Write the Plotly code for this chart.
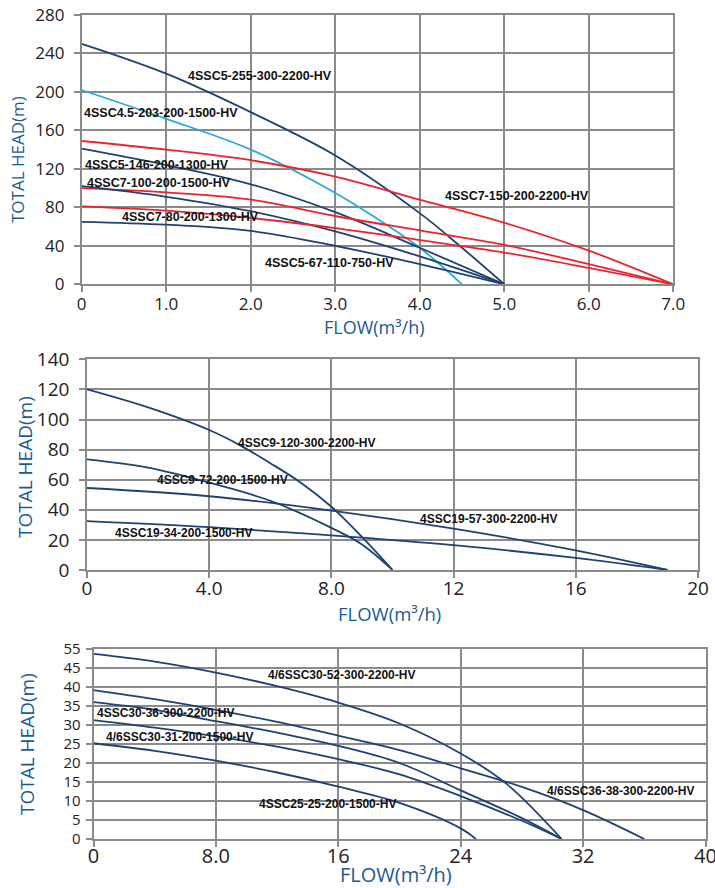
import plotly.graph_objects as go

W, H = 715, 888

# ---------------- data: chart 1 ----------------
c1_flow_5 = [0, 1, 2, 3, 4, 5]
c1_255_flow = [0, 1, 2, 3, 4, 4.5, 5]
c1_255_head = [250, 219, 179, 134, 74, 38, 0]
c1_203_flow = [0, 1, 2, 3, 3.5, 4, 4.5]
c1_203_head = [202, 172, 140, 95, 68, 38, 0]
c1_146_head = [141, 124, 104, 75, 38, 0]
c1_101_head = [102, 91, 76, 55, 29, 0]
c1_67_head = [65, 62, 55.5, 40, 21, 0]
c1_flow_7 = [0, 1, 2, 3, 4, 5, 6, 7]
c1_150_head = [149, 140, 129, 112, 88, 64, 35, 0]
c1_100_head = [100, 95.5, 88, 71, 56, 41, 21, 0]
c1_80_head = [81, 76.5, 69, 58.5, 46, 33, 17, 0]

c1_xticks = [0, 1, 2, 3, 4, 5, 6, 7]
c1_xtext = ["0", "1.0", "2.0", "3.0", "4.0", "5.0", "6.0", "7.0"]
c1_yticks = [0, 40, 80, 120, 160, 200, 240, 280]

# ---------------- data: chart 2 ----------------
c2_9_flow = [0, 2, 4, 5, 6, 7, 8, 9, 10]
c2_120_head = [120, 108, 93, 83, 71, 58, 42, 22, 0]
c2_72_flow = [0, 2, 4, 6, 8, 9, 10]
c2_72_head = [73.5, 68, 58, 46, 28, 17, 0]
c2_19_flow = [0, 4, 8, 12, 16, 19]
c2_57_head = [54.5, 49, 39.5, 27.5, 13, 0]
c2_34_head = [32.5, 28.5, 23, 16.5, 8, 0]

c2_xticks = [0, 4, 8, 12, 16, 20]
c2_xtext = ["0", "4.0", "8.0", "12", "16", "20"]
c2_yticks = [0, 20, 40, 60, 80, 100, 120, 140]

# ---------------- data: chart 3 ----------------
c3_52_flow = [0, 4, 8, 12, 16, 20, 24, 27, 30.6]
c3_52_head = [48.7, 46.7, 43.8, 40.2, 35.9, 30.4, 22.5, 14.5, 0]
c3_38_flow = [0, 4, 8, 12, 16, 20, 24, 28, 32, 36]
c3_38_head = [39.2, 36.8, 34, 30.8, 27.2, 23.4, 18.6, 13.7, 7.6, 0]
c3_30_flow = [0, 4, 8, 12, 16, 20, 24, 28, 30.6]
c3_36_head = [36, 34, 31, 28, 24.5, 20, 12.8, 5.5, 0]
c3_31_head = [31.3, 29.3, 27, 24.3, 21, 17, 11.3, 4.8, 0]
c3_25_flow = [0, 4, 8, 12, 16, 20, 24, 25]
c3_25_head = [25.2, 23.2, 20.6, 17.5, 13.8, 9.5, 2.8, 0]

c3_xticks = [0, 8, 16, 24, 32, 40]
c3_xtext = ["0", "8.0", "16", "24", "32", "40"]
c3_yticks = [0, 5, 10, 15, 20, 25, 30, 35, 40, 45, 50]
c3_ytext = ["0", "5", "10", "15", "20", "25", "30", "35", "40", "45", "55"]

NAVY = "#1f4275"
RED = "#e8252d"
LIGHT = "#2aa8e0"
GRID = "#8a8a8a"
TITLE = "#1d5a94"

fig = go.Figure()


def add(x, y, color, xa, ya):
    fig.add_trace(go.Scatter(x=x, y=y, mode="lines", xaxis=xa, yaxis=ya,
                             line=dict(color=color, width=1.8, shape="spline", smoothing=1.0),
                             showlegend=False, hoverinfo="skip"))


# chart 1
add(c1_255_flow, c1_255_head, NAVY, "x", "y")
add(c1_203_flow, c1_203_head, LIGHT, "x", "y")
add(c1_flow_7, c1_150_head, RED, "x", "y")
add(c1_flow_5, c1_146_head, NAVY, "x", "y")
add(c1_flow_7, c1_100_head, RED, "x", "y")
add(c1_flow_5, c1_101_head, NAVY, "x", "y")
add(c1_flow_7, c1_80_head, RED, "x", "y")
add(c1_flow_5, c1_67_head, NAVY, "x", "y")
# chart 2
add(c2_9_flow, c2_120_head, NAVY, "x2", "y2")
add(c2_72_flow, c2_72_head, NAVY, "x2", "y2")
add(c2_19_flow, c2_57_head, NAVY, "x2", "y2")
add(c2_19_flow, c2_34_head, NAVY, "x2", "y2")
# chart 3
add(c3_52_flow, c3_52_head, NAVY, "x3", "y3")
add(c3_38_flow, c3_38_head, NAVY, "x3", "y3")
add(c3_30_flow, c3_36_head, NAVY, "x3", "y3")
add(c3_30_flow, c3_31_head, NAVY, "x3", "y3")
add(c3_25_flow, c3_25_head, NAVY, "x3", "y3")


def px_dom_x(a, b):
    return [a / W, b / W]


def px_dom_y(top, bottom):
    return [1 - bottom / H, 1 - top / H]


def axis(dom, rng, tv, tt, fs, anchor, standoff):
    return dict(domain=dom, range=rng, tickvals=tv, ticktext=tt,
                showgrid=True, gridcolor=GRID, gridwidth=1.6,
                showline=True, linecolor=GRID, linewidth=1.6, mirror=True,
                ticks="outside", ticklen=6, tickcolor=GRID, tickwidth=1.6,
                zeroline=False, anchor=anchor, fixedrange=True, automargin=False,
                ticklabelstandoff=standoff, ticklabeloverflow="allow",
                tickfont=dict(family="Open Sans", size=fs, color="#222222"))


lay = dict(
    width=W, height=H, margin=dict(l=0, r=0, t=0, b=0, pad=0, autoexpand=False),
    paper_bgcolor="white", plot_bgcolor="white",
)
lay["xaxis"] = axis(px_dom_x(81.7, 673.3), [0, 7], c1_xticks, c1_xtext, 17, "y", -3)
lay["yaxis"] = axis(px_dom_y(15, 284.3), [0, 280], c1_yticks, [str(v) for v in c1_yticks], 17, "x", 6)
lay["xaxis2"] = axis(px_dom_x(87, 698), [0, 20], c2_xticks, c2_xtext, 19, "y2", -6)
lay["yaxis2"] = axis(px_dom_y(359.3, 570), [0, 140], c2_yticks, [str(v) for v in c2_yticks], 19, "x2", 6)
lay["xaxis3"] = axis(px_dom_x(93.5, 705.5), [0, 40], c3_xticks, c3_xtext, 20, "y3", -8)
lay["yaxis3"] = axis(px_dom_y(649, 839), [0, 50], c3_yticks, c3_ytext, 15, "x3", 2)
fig.update_layout(**lay)

# curve labels
labels = [
    ("x", "y", 1.23, 216.6, "4SSC5-255-300-2200-HV", 12.5),
    ("x", "y", 0.0, 178.4, "4SSC4.5-203-200-1500-HV", 12.5),
    ("x", "y", 0.02, 124, "4SSC5-146-200-1300-HV", 12.5),
    ("x", "y", 0.04, 105, "4SSC7-100-200-1500-HV", 12.5),
    ("x", "y", -0.03, 85, "4SSC5-101-150-1100-HV", 12.5),
    ("x", "y", 0.45, 69.7, "4SSC7-80-200-1300-HV", 12.5),
    ("x", "y", 2.14, 21.8, "4SSC5-67-110-750-HV", 12.5),
    ("x", "y", 4.27, 91.8, "4SSC7-150-200-2200-HV", 12.5),
    ("x2", "y2", 4.89, 84.2, "4SSC9-120-300-2200-HV", 12),
    ("x2", "y2", 2.24, 59.8, "4SSC9-72-200-1500-HV", 12),
    ("x2", "y2", 10.85, 33.9, "4SSC19-57-300-2200-HV", 12),
    ("x2", "y2", 0.85, 24.4, "4SSC19-34-200-1500-HV", 12),
    ("x3", "y3", 11.3, 43.2, "4/6SSC30-52-300-2200-HV", 12),
    ("x3", "y3", 0.11, 33.1, "4SSC30-36-300-2200-HV", 12),
    ("x3", "y3", 0.66, 26.9, "4/6SSC30-31-200-1500-HV", 12),
    ("x3", "y3", 10.7, 9.1, "4SSC25-25-200-1500-HV", 12),
    ("x3", "y3", 29.5, 12.7, "4/6SSC36-38-300-2200-HV", 12),
]
for xr, yr, xv, yv, t, fs in labels:
    fig.add_annotation(x=xv, y=yv, xref=xr, yref=yr, text="<b>" + t + "</b>", showarrow=False,
                       xanchor="left", yanchor="middle",
                       font=dict(family="Liberation Sans", size=fs, color="#111111"))

# axis titles
xtitles = [(374, 327, 18), (390, 613, 18.5), (396, 874, 20)]
ytitles = [(18, 160, 17), (25, 467, 19), (27, 744, 19)]
for xp, yp, fs in xtitles:
    fig.add_annotation(x=xp / W, y=1 - yp / H, xref="paper", yref="paper",
                       text="FLOW(m³/h)", showarrow=False, xanchor="center", yanchor="middle",
                       font=dict(family="Open Sans", size=fs, color=TITLE))
for xp, yp, fs in ytitles:
    fig.add_annotation(x=xp / W, y=1 - yp / H, xref="paper", yref="paper",
                       text="TOTAL HEAD(m)", showarrow=False, textangle=-90,
                       xanchor="center", yanchor="middle",
                       font=dict(family="Open Sans", size=fs, color=TITLE))

fig.write_html("out.html", config={"displayModeBar": False},
               post_script="document.body.style.margin='0';document.body.style.overflow='hidden';")
